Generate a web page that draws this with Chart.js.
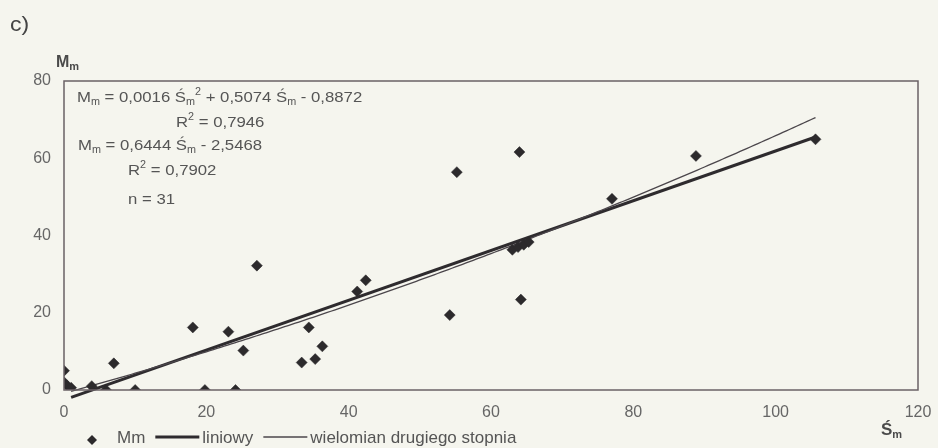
<!DOCTYPE html>
<html>
<head>
<meta charset="utf-8">
<script src="https://cdn.jsdelivr.net/npm/chart.js@4.4.1/dist/chart.umd.min.js"></script>
<style>
  html, body { margin: 0; padding: 0; background: #f5f5ee; }
  canvas { display: block; }
</style>
</head>
<body>
<canvas id="chart" width="938" height="448"></canvas>
<script>
// Measured samples: mean value Ś_m (x) against M_m (y)
const sValues = [0, 0, 0.4, 1.0, 3.9, 5.9, 7.0, 10.0, 18.1, 19.8, 23.1, 24.1, 25.2, 27.1,
                 33.4, 34.4, 35.3, 36.3, 41.2, 42.4, 54.2, 55.2, 63.0, 63.8, 64.0, 64.2,
                 64.6, 65.3, 77.0, 88.8, 105.6];
const mValues = [5.0, 2.0, 1.2, 0.6, 1.0, 0, 6.9, 0, 16.2, 0, 15.1, 0, 10.2, 32.2,
                 7.1, 16.2, 8.0, 11.3, 25.5, 28.4, 19.4, 56.4, 36.3, 37.0, 61.6, 23.4,
                 37.6, 38.3, 49.5, 60.6, 64.9];

// Axis ticks
const xTicks = [0, 20, 40, 60, 80, 100, 120];
const yTicks = [0, 20, 40, 60, 80];

// Trend lines: linear (a, b) and 2nd degree polynomial (a, b, c), with R²
const linCoef = [0.6444, -2.5468];
const quadCoef = [0.0016, 0.5074, -0.8872];
const rSquared = [0.7946, 0.7902];
const fitRange = [1, 105.6];

const seriesNames = ['Mm', 'liniowy', 'wielomian drugiego stopnia'];

const FONT = '"Liberation Sans", Arial, Helvetica, sans-serif';
const TEXT = '#555555';
const INK = '#2c2a2c';

const points = sValues.map((s, i) => ({ x: s, y: mValues[i] }));

const linLine = fitRange.map(x => ({ x, y: linCoef[0] * x + linCoef[1] }));
const quad = x => quadCoef[0] * x * x + quadCoef[1] * x + quadCoef[2];
const quadLine = [];
for (let x = fitRange[0]; x < fitRange[1]; x += 0.5) quadLine.push({ x, y: quad(x) });
quadLine.push({ x: fitRange[1], y: quad(fitRange[1]) });

const fmt = v => Math.abs(v).toFixed(4).replace('.', ',');
const sign = v => (v < 0 ? ' - ' : ' + ');

// draws a run of text pieces with sub/superscripts, optionally stretched horizontally
function drawRich(ctx, parts, x, y, size, weight, color, sx = 1) {
  let cx = 0;
  ctx.save();
  ctx.translate(x, y);
  ctx.scale(sx, 1);
  ctx.textBaseline = 'alphabetic';
  ctx.textAlign = 'left';
  ctx.fillStyle = color;
  parts.forEach(p => {
    let fs = size, dy = 0;
    if (p.sub) { fs = Math.round(size * 0.66); dy = size * 0.2; }
    if (p.sup) { fs = Math.round(size * 0.66); dy = -size * 0.42; }
    ctx.font = `${weight} ${fs}px ${FONT}`;
    ctx.fillText(p.t, cx, dy);
    cx += ctx.measureText(p.t).width;
  });
  ctx.restore();
  return x + cx * sx;
}

const decorations = {
  id: 'decorations',
  beforeDraw(chart) {
    const ctx = chart.ctx;
    ctx.save();
    ctx.fillStyle = '#f5f5ee';
    ctx.fillRect(0, 0, chart.width, chart.height);
    ctx.restore();
  },
  afterDraw(chart) {
    const ctx = chart.ctx;
    const a = chart.chartArea;

    // plot frame
    ctx.save();
    ctx.strokeStyle = '#6a6166';
    ctx.lineWidth = 1.5;
    ctx.strokeRect(a.left, a.top, a.right - a.left, a.bottom - a.top);
    ctx.restore();

    // panel letter
    drawRich(ctx, [{ t: 'c)' }], 10, 31, 20, 'normal', '#444', 1.15);

    // axis titles
    drawRich(ctx, [{ t: 'M' }, { t: 'm', sub: true }], a.left - 8, a.top - 14, 16, 'bold', '#4a4a4a');
    drawRich(ctx, [{ t: 'Ś' }, { t: 'm', sub: true }], 881, 435, 17, 'bold', '#4a4a4a');

    // regression equations
    const fs = 15.5, sx = 1.08;
    const L = a.left, T = a.top;
    drawRich(ctx, [
      { t: 'M' }, { t: 'm', sub: true }, { t: ' = ' + fmt(quadCoef[0]) + ' Ś' }, { t: 'm', sub: true },
      { t: '2', sup: true }, { t: sign(quadCoef[1]) + fmt(quadCoef[1]) + ' Ś' }, { t: 'm', sub: true },
      { t: sign(quadCoef[2]) + fmt(quadCoef[2]) }
    ], L + 13, T + 21, fs, 'normal', TEXT, sx);
    drawRich(ctx, [{ t: 'R' }, { t: '2', sup: true }, { t: ' = ' + fmt(rSquared[0]) }], L + 112, T + 46, fs, 'normal', TEXT, sx);
    drawRich(ctx, [
      { t: 'M' }, { t: 'm', sub: true }, { t: ' = ' + fmt(linCoef[0]) + ' Ś' }, { t: 'm', sub: true },
      { t: sign(linCoef[1]) + fmt(linCoef[1]) }
    ], L + 14, T + 69, fs, 'normal', TEXT, sx);
    drawRich(ctx, [{ t: 'R' }, { t: '2', sup: true }, { t: ' = ' + fmt(rSquared[1]) }], L + 64, T + 94, fs, 'normal', TEXT, sx);
    drawRich(ctx, [{ t: 'n = ' + points.length }], L + 64, T + 123, fs, 'normal', TEXT, sx);

    // legend
    const ds = chart.data.datasets;
    const ly = 437, box = 44;
    let x = 70;
    ctx.save();
    ds.forEach((d, i) => {
      if (i === 0) {
        ctx.beginPath();
        const cx = x + box / 2, cy = ly + 3, r = 5;
        ctx.moveTo(cx - r, cy); ctx.lineTo(cx, cy - r); ctx.lineTo(cx + r, cy); ctx.lineTo(cx, cy + r);
        ctx.closePath();
        ctx.fillStyle = d.backgroundColor;
        ctx.fill();
      } else {
        ctx.beginPath();
        ctx.moveTo(x, ly); ctx.lineTo(x + box, ly);
        ctx.strokeStyle = d.borderColor;
        ctx.lineWidth = d.borderWidth;
        ctx.stroke();
      }
      const end = drawRich(ctx, [{ t: d.label }], x + box + 3, ly + 6, 17, 'normal', TEXT);
      x = end + 10;
    });
    ctx.restore();
  }
};

new Chart(document.getElementById('chart'), {
  type: 'scatter',
  data: {
    datasets: [
      {
        type: 'scatter',
        label: seriesNames[0],
        data: points,
        pointStyle: 'rectRot',
        pointRadius: 5.5,
        pointHoverRadius: 5.5,
        backgroundColor: INK,
        borderColor: INK,
        borderWidth: 0.5,
        order: 0
      },
      {
        type: 'line',
        label: seriesNames[1],
        data: linLine,
        borderColor: '#2e2b2e',
        borderWidth: 3,
        pointRadius: 0,
        fill: false,
        clip: false,
        order: 2
      },
      {
        type: 'line',
        label: seriesNames[2],
        data: quadLine,
        borderColor: '#4b464b',
        borderWidth: 1.3,
        pointRadius: 0,
        fill: false,
        clip: false,
        tension: 0,
        order: 1
      }
    ]
  },
  options: {
    responsive: false,
    animation: false,
    events: [],
    layout: { padding: { top: 81, right: 20, bottom: 0, left: 0 } },
    plugins: {
      legend: { display: false },
      tooltip: { enabled: false }
    },
    scales: {
      x: {
        type: 'linear',
        position: 'bottom',
        min: 0,
        max: 120,
        afterBuildTicks: axis => { axis.ticks = xTicks.map(v => ({ value: v })); },
        afterFit: axis => { axis.height = 58; axis.paddingLeft = 0; axis.paddingRight = 0; },
        grid: { display: false, drawTicks: false },
        border: { display: false },
        ticks: { padding: 13, color: '#666', font: { family: FONT, size: 16 }, maxRotation: 0 }
      },
      y: {
        type: 'linear',
        min: 0,
        max: 80,
        afterBuildTicks: axis => { axis.ticks = yTicks.map(v => ({ value: v })); },
        afterFit: axis => { axis.width = 64; axis.paddingTop = 0; axis.paddingBottom = 0; },
        grid: { display: false, drawTicks: false },
        border: { display: false },
        ticks: { padding: 13, color: '#666', font: { family: FONT, size: 16 } }
      }
    }
  },
  plugins: [decorations]
});
</script>
</body>
</html>
